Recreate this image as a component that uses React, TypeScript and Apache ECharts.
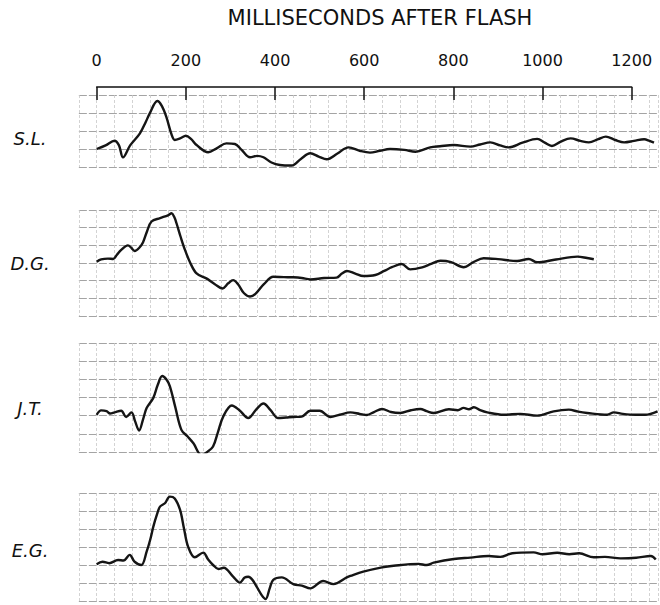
import React, { useEffect, useRef } from "react";
import * as echarts from "echarts";

const titleText = "MILLISECONDS AFTER FLASH";
const tickValues = [0, 200, 400, 600, 800, 1000, 1200];
const subjects = ["S.L.", "D.G.", "J.T.", "E.G."];

const slTrace: [number, number][] = [
  [0, 0], [20, 0.2], [40, 0.46], [50, 0.2], [59, -0.46], [75, 0.2], [97, 0.87], [110, 1.5], [119, 1.98],
  [136, 2.67], [146, 2.4], [156, 1.8], [168, 0.8], [175, 0.5], [188, 0.6], [200, 0.74], [212, 0.55],
  [224, 0.22], [250, -0.18], [270, 0.05], [291, 0.31], [310, 0.28], [325, -0.05], [344, -0.46],
  [360, -0.38], [374, -0.46], [392, -0.75], [411, -0.89], [437, -0.92], [458, -0.55], [479, -0.24],
  [498, -0.42], [516, -0.57], [540, -0.25], [565, 0.09], [590, -0.1], [613, -0.2], [635, -0.1],
  [658, 0], [690, -0.05], [715, -0.15], [748, 0.09], [770, 0.15], [801, 0.22], [838, 0.13],
  [860, 0.25], [883, 0.37], [905, 0.2], [924, 0.09], [955, 0.35], [988, 0.56], [1005, 0.35],
  [1021, 0.17], [1040, 0.4], [1063, 0.59], [1085, 0.45], [1104, 0.37], [1125, 0.55], [1142, 0.69],
  [1163, 0.5], [1183, 0.37], [1205, 0.45], [1228, 0.54], [1240, 0.45], [1250, 0.35],
];

const dgTrace: [number, number][] = [
  [0, 0.07], [10, 0.2], [25, 0.25], [37, 0.23], [45, 0.45], [55, 0.74], [70, 1.0], [78, 0.85],
  [85, 0.68], [95, 0.85], [104, 1.18], [113, 1.8], [123, 2.35], [142, 2.54], [160, 2.7], [168, 2.82],
  [174, 2.6], [179, 2.25], [188, 1.5], [198, 0.74], [210, 0.0], [224, -0.59], [246, -0.87],
  [265, -1.2], [282, -1.44], [295, -1.15], [306, -0.97], [317, -1.2], [330, -1.7], [344, -1.9],
  [356, -1.75], [375, -1.2], [396, -0.78], [420, -0.8], [441, -0.81], [460, -0.85], [479, -0.93],
  [510, -0.85], [538, -0.83], [550, -0.6], [561, -0.45], [580, -0.6], [598, -0.74], [625, -0.68],
  [645, -0.45], [662, -0.24], [684, -0.06], [703, -0.36], [730, -0.25], [750, -0.05], [771, 0.13],
  [795, 0.05], [823, -0.24], [845, 0.05], [868, 0.27], [900, 0.22], [943, 0.11], [969, 0.23],
  [988, 0.04], [1030, 0.2], [1078, 0.36], [1100, 0.28], [1115, 0.21],
];

const jtTrace: [number, number][] = [
  [0, 0.05], [10, 0.29], [22, 0.25], [30, 0.12], [40, 0.18], [55, 0.27], [66, -0.07], [78, 0.18],
  [86, -0.3], [95, -0.82], [104, -0.2], [112, 0.42], [127, 0.98], [137, 1.7], [147, 2.18], [156, 2.0],
  [164, 1.63], [176, 0.5], [190, -0.78], [204, -1.15], [217, -1.52], [235, -2.17], [248, -2.0],
  [261, -1.7], [272, -0.9], [284, -0.04], [303, 0.56], [320, 0.3], [340, -0.13], [358, 0.35],
  [374, 0.67], [390, 0.3], [407, -0.13], [425, -0.1], [441, -0.07], [460, -0.05], [479, 0.27],
  [500, 0.27], [524, -0.07], [545, 0.05], [569, 0.18], [590, 0.1], [606, 0.04], [622, 0.2],
  [640, 0.37], [660, 0.2], [681, 0.15], [705, 0.3], [726, 0.37], [740, 0.25], [756, 0.15],
  [790, 0.35], [810, 0.3], [823, 0.43], [835, 0.35], [846, 0.46], [860, 0.3], [876, 0.18],
  [913, 0.05], [950, 0.1], [988, 0], [1025, 0.24], [1059, 0.33], [1080, 0.22], [1100, 0.15],
  [1145, 0.05], [1160, 0.18], [1180, 0.1], [1209, 0.05], [1230, 0.05], [1258, 0.24],
];

const egTrace: [number, number][] = [
  [0, 0.04], [13, 0.18], [28, 0.1], [48, 0.28], [60, 0.25], [74, 0.56], [85, 0.18], [100, 0],
  [112, 0.74], [120, 1.4], [127, 2.13], [135, 2.8], [142, 3.24], [153, 3.43], [164, 3.8], [175, 3.7],
  [187, 3.06], [196, 2.0], [205, 1.02], [220, 0.43], [239, 0.69], [250, 0.3], [261, 0], [273, -0.22],
  [285, -0.15], [306, -0.65], [321, -0.98], [332, -0.7], [340, -0.65], [350, -0.85], [370, -1.67],
  [379, -1.89], [388, -1.3], [396, -0.83], [415, -0.69], [441, -1.06], [460, -1.15], [479, -1.3],
  [508, -0.89], [531, -1.06], [561, -0.69], [569, -0.61], [598, -0.37], [640, -0.13], [666, -0.04],
  [722, 0.06], [740, 0.0], [756, 0.13], [801, 0.33], [838, 0.41], [879, 0.5], [905, 0.45],
  [932, 0.65], [980, 0.7], [1000, 0.6], [1033, 0.68], [1060, 0.6], [1082, 0.65], [1115, 0.43],
  [1140, 0.45], [1175, 0.37], [1210, 0.4], [1243, 0.5], [1254, 0.31],
];

const traces = [slTrace, dgTrace, jtTrace, egTrace];
const yRanges: [number, number][] = [[-1, 3], [-3, 3], [-2, 4], [-2, 4]];

export default function App() {
  const ref = useRef<HTMLDivElement>(null);
  useEffect(() => {
    if (!ref.current) return;
    const chart = echarts.init(ref.current, null, { renderer: "svg" });
    const panelTops = [95, 210, 343, 493];
    const panelHeights = [72, 106, 109, 108];
    const pxPerMs = 535 / 1200;
    const zeroX = 96.7;
    const xMin = -40;
    const xMax = 1260;
    const panelLeft = zeroX + xMin * pxPerMs;
    const panelWidth = (xMax - xMin) * pxPerMs;
    const labelY = [138.5, 263, 408, 550];

    const grids: any[] = [{ left: zeroX, top: 74, width: 1200 * pxPerMs, height: 13 }];
    const xAxes: any[] = [
      {
        gridIndex: 0,
        type: "value",
        position: "top",
        min: 0,
        max: 1200,
        interval: 200,
        axisLine: { show: true, lineStyle: { color: "#111", width: 1.5 } },
        axisTick: { show: true, inside: true, length: 13, lineStyle: { color: "#111", width: 1.5 } },
        axisLabel: {
          show: true,
          margin: 6,
          color: "#111",
          fontFamily: "DejaVu Sans",
          fontSize: 16,
          customValues: tickValues,
          formatter: (v: number) => String(v),
        },
        splitLine: { show: false },
      },
    ];
    const yAxes: any[] = [{ gridIndex: 0, type: "value", show: false, min: 0, max: 1 }];
    const series: any[] = [];

    traces.forEach((tr, i) => {
      const gi = i + 1;
      grids.push({ left: panelLeft, width: panelWidth, top: panelTops[i], height: panelHeights[i] });
      xAxes.push({
        gridIndex: gi,
        type: "value",
        min: xMin,
        max: xMax,
        interval: 40,
        axisLine: { show: false },
        axisTick: { show: false },
        axisLabel: { show: false },
        splitLine: { show: true, lineStyle: { color: "#c8c8c8", width: 0.8, type: [3, 2] } },
      });
      yAxes.push({
        gridIndex: gi,
        type: "value",
        min: yRanges[i][0],
        max: yRanges[i][1],
        interval: 1,
        axisLine: { show: false },
        axisTick: { show: false },
        axisLabel: { show: false },
        splitLine: { show: true, lineStyle: { color: "#9a9a9a", width: 0.9, type: [8, 2] } },
      });
      series.push({
        type: "line",
        name: subjects[i],
        xAxisIndex: gi,
        yAxisIndex: gi,
        data: tr,
        smooth: 0.35,
        showSymbol: false,
        lineStyle: { color: "#151515", width: 2.4 },
      });
    });

    const graphics: any[] = [
      {
        type: "text",
        x: 380,
        y: 18,
        style: {
          text: titleText,
          fill: "#111",
          font: "21px 'DejaVu Sans'",
          align: "center",
          verticalAlign: "middle",
        },
      },
      ...subjects.map((s, i) => ({
        type: "text",
        x: 30,
        y: labelY[i],
        style: {
          text: s,
          fill: "#111",
          font: "italic 18px 'DejaVu Sans'",
          align: "center",
          verticalAlign: "middle",
        },
      })),
    ];

    chart.setOption({
      animation: false,
      backgroundColor: "#ffffff",
      grid: grids,
      xAxis: xAxes,
      yAxis: yAxes,
      series,
      graphic: graphics,
    });
    return () => chart.dispose();
  }, []);
  return <div ref={ref} style={{ position: "absolute", left: 0, top: 0, width: 660, height: 605 }} />;
}
